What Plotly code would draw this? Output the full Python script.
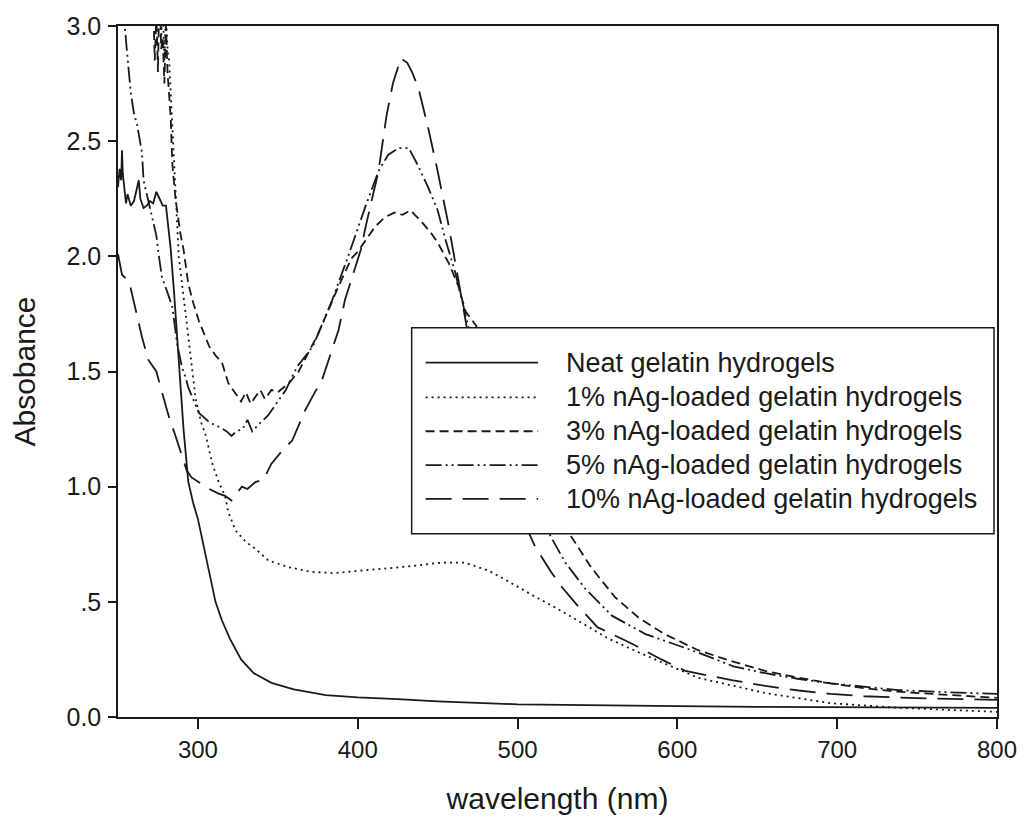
import plotly.graph_objects as go

# ---------------- data ----------------
neat_x = [250, 251, 252, 252.5, 253, 254, 255, 256, 258, 260, 262, 263, 264, 266, 268, 270, 272, 274, 276,
          278, 280, 281, 282, 283, 285, 288, 291, 294, 297, 300, 305, 311, 315, 320, 327, 335, 346, 360,
          380, 400, 425, 450, 500, 550, 600, 650, 700, 750, 800]
neat_y = [2.30, 2.38, 2.33, 2.46, 2.36, 2.28, 2.23, 2.27, 2.22, 2.24, 2.30, 2.33, 2.25, 2.21, 2.22, 2.24, 2.23,
          2.28, 2.25, 2.22, 2.22, 2.15, 2.09, 2.03, 1.85, 1.55, 1.25, 1.02, 0.93, 0.86, 0.70, 0.50, 0.42,
          0.34, 0.25, 0.19, 0.148, 0.12, 0.095, 0.085, 0.078, 0.068, 0.055, 0.050, 0.047, 0.044, 0.042,
          0.041, 0.040]

ag1_x = [276, 277, 278, 279, 280, 281, 282, 285, 288, 292.5, 296, 298.6, 302, 305, 309, 313, 317, 319, 323.5,
         330, 336, 344, 357, 371, 385, 394, 410, 426, 440, 452, 467, 482, 494, 509, 525, 540, 557, 576,
         586, 613, 655, 696, 738, 770, 800]
ag1_y = [3.2, 2.95, 3.1, 2.85, 3.05, 2.9, 2.85, 2.45, 2.0, 1.74, 1.52, 1.38, 1.28, 1.22, 1.10, 1.02, 0.96,
         0.89, 0.81, 0.76, 0.73, 0.68, 0.65, 0.63, 0.625, 0.63, 0.64, 0.65, 0.66, 0.67, 0.67, 0.635, 0.59,
         0.53, 0.47, 0.41, 0.34, 0.28, 0.25, 0.17, 0.104, 0.06, 0.04, 0.03, 0.022]

ag3_x = [272, 273, 274, 275, 276, 277, 278, 279, 280, 281, 282, 283, 284, 286, 289, 291, 294, 297, 300.6,
         304, 307, 311, 315, 319, 324, 327, 330, 333, 336, 339, 342, 346, 350, 357, 363, 369, 375, 380,
         388, 396, 400, 411, 417, 423, 428, 433, 440, 446, 450, 457, 463, 467.5, 474, 490, 505, 520, 534,
         546, 561, 576, 592, 613, 635, 655, 676, 696, 717, 738, 760, 780, 800]
ag3_y = [3.1, 2.85, 3.05, 2.8, 3.2, 2.9, 2.95, 2.75, 3.0, 2.8, 2.7, 2.6, 2.4, 2.25, 2.1, 2.03, 1.88, 1.80,
         1.72, 1.66, 1.61, 1.57, 1.54, 1.45, 1.40, 1.37, 1.41, 1.36, 1.39, 1.42, 1.38, 1.42, 1.41, 1.45,
         1.50, 1.58, 1.66, 1.74, 1.87, 1.99, 2.02, 2.13, 2.17, 2.19, 2.18, 2.20, 2.15, 2.10, 2.06, 1.97,
         1.87, 1.76, 1.70, 1.38, 1.10, 0.93, 0.78, 0.65, 0.52, 0.43, 0.36, 0.29, 0.24, 0.20, 0.17, 0.146,
         0.125, 0.11, 0.10, 0.09, 0.083]

ag5_x = [253, 254, 255.6, 258, 260, 262, 264, 265, 266, 268, 270.6, 274, 275.6, 277.5, 280.6, 284, 287, 290,
         292.5, 294, 297, 300.6, 304, 307, 313, 318, 321, 324, 328, 331, 334, 338, 344, 349, 355, 362, 372,
         384, 394, 405, 413, 419, 425.6, 432, 438, 444, 450, 455, 461, 467, 469, 480, 495, 510, 521, 530,
         542, 559, 580, 613, 635, 655, 676, 696, 717, 738, 760, 780, 800]
ag5_y = [3.1, 3.03, 2.89, 2.71, 2.62, 2.57, 2.50, 2.45, 2.33, 2.27, 2.20, 2.09, 2.00, 1.91, 1.85, 1.78, 1.62,
         1.52, 1.47, 1.43, 1.38, 1.32, 1.30, 1.28, 1.26, 1.24, 1.22, 1.24, 1.25, 1.29, 1.24, 1.27, 1.31,
         1.36, 1.42, 1.52, 1.61, 1.81, 2.00, 2.22, 2.37, 2.44, 2.47, 2.47, 2.39, 2.30, 2.20, 2.07, 1.93,
         1.76, 1.70, 1.45, 1.15, 0.93, 0.78, 0.67, 0.56, 0.44, 0.36, 0.28, 0.22, 0.19, 0.165, 0.146, 0.13,
         0.117, 0.11, 0.105, 0.10]

ag10_x = [250, 252.5, 257, 261, 265, 269, 274, 277.5, 282, 286, 290, 293, 296, 300.6, 307, 313, 317, 321, 324,
          327.5, 331, 336, 341, 346, 352, 359, 367, 374, 377, 382, 388, 392, 397, 402, 405, 409, 413, 418,
          422, 427, 431, 434, 438, 444, 450, 457, 463, 468, 480, 495, 507, 511, 521, 527, 538, 550, 571,
          590, 605, 634, 655, 676, 696, 717, 750, 775, 800]
ag10_y = [2.01, 1.92, 1.89, 1.77, 1.65, 1.55, 1.50, 1.41, 1.30, 1.22, 1.13, 1.07, 1.04, 1.02, 0.99, 0.97, 0.96,
          0.94, 0.97, 1.00, 0.99, 1.02, 1.03, 1.10, 1.15, 1.20, 1.33, 1.42, 1.45, 1.55, 1.68, 1.81, 1.92,
          2.03, 2.13, 2.25, 2.37, 2.61, 2.75, 2.86, 2.84, 2.80, 2.73, 2.56, 2.37, 2.13, 1.90, 1.70, 1.38,
          1.05, 0.80, 0.74, 0.63, 0.57, 0.48, 0.39, 0.32, 0.25, 0.20, 0.16, 0.135, 0.115, 0.10, 0.09, 0.082,
          0.077, 0.074]

series_names = ["Neat gelatin hydrogels",
                "1% nAg-loaded gelatin hydrogels",
                "3% nAg-loaded gelatin hydrogels",
                "5% nAg-loaded gelatin hydrogels",
                "10% nAg-loaded gelatin hydrogels"]

x_ticks = [300, 400, 500, 600, 700, 800]
y_ticks = [0.0, 0.5, 1.0, 1.5, 2.0, 2.5, 3.0]
y_tick_text = ["0.0", ".5", "1.0", "1.5", "2.0", "2.5", "3.0"]

# ---------------- styles ----------------
FONT = "Liberation Sans, Arial, sans-serif"
INK = "#1a1a1a"
dashes = ["solid", "2px,4px", "9px,5px", "16px,4px,2px,4px,2px,4px", "26px,11px"]
LW = 1.8
xs = [neat_x, ag1_x, ag3_x, ag5_x, ag10_x]
ys = [neat_y, ag1_y, ag3_y, ag5_y, ag10_y]

fig = go.Figure()
for name, x, y, d in zip(series_names, xs, ys, dashes):
    fig.add_trace(go.Scatter(x=x, y=y, mode="lines", name=name, showlegend=False,
                             line=dict(color=INK, width=LW, dash=d)))

# ---------------- manual legend (box, samples, text) ----------------
W, H = 1029, 831
L, R, T, B = 118, 28, 23, 114
pw, ph = W - L - R, H - T - B


def px(xp):
    return (xp - L) / pw


def py(yp):
    return (H - B - yp) / ph


shapes = [dict(type="rect", xref="paper", yref="paper", layer="above",
               x0=px(413), x1=px(998), y0=py(533), y1=py(326),
               line=dict(color=INK, width=1.5), fillcolor="white")]
annotations = []
row_y = [361, 396, 430, 464, 498]
for name, d, ry in zip(series_names, dashes, row_y):
    shapes.append(dict(type="line", xref="paper", yref="paper", layer="above",
                       x0=px(427), x1=px(540), y0=py(ry), y1=py(ry),
                       line=dict(color=INK, width=LW, dash=d)))
    annotations.append(dict(xref="paper", yref="paper", x=px(566), y=py(ry), text=name,
                            showarrow=False, xanchor="left", yanchor="middle",
                            font=dict(family=FONT, size=27, color=INK)))

fig.update_layout(
    width=W, height=H,
    margin=dict(l=L, r=R, t=T, b=B, pad=0),
    paper_bgcolor="white", plot_bgcolor="white",
    font=dict(family=FONT, color=INK),
    shapes=shapes, annotations=annotations,
    showlegend=False,
)
fig.update_xaxes(range=[250, 800], tickvals=x_ticks, ticks="outside", ticklen=10, tickwidth=1.5,
                 tickcolor=INK, showline=True, linecolor=INK, linewidth=1.5, mirror=True,
                 showgrid=False, zeroline=False, tickfont=dict(size=24, family=FONT),
                 title=dict(text="wavelength (nm)", font=dict(size=30, family=FONT), standoff=26))
fig.update_yaxes(range=[0, 3], tickvals=y_ticks, ticktext=y_tick_text, ticks="outside", ticklen=8,
                 tickwidth=1.5, tickcolor=INK, showline=True, linecolor=INK, linewidth=1.5, mirror=True,
                 showgrid=False, zeroline=False, tickfont=dict(size=25, family=FONT),
                 ticklabelstandoff=2,
                 title=dict(text="Absobance", font=dict(size=30, family=FONT), standoff=22))

fig.write_html("out.html")
